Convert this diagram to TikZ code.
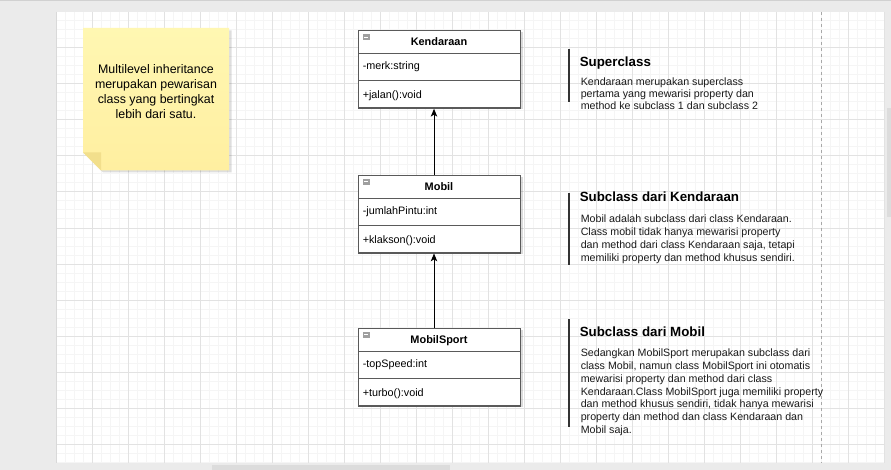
\documentclass[tikz,border=0pt]{standalone}
\usepackage{fontspec}
\setmainfont{Liberation Sans}
\usetikzlibrary{arrows.meta}
\definecolor{bgout}{HTML}{EBEBEB}
\definecolor{gridminor}{HTML}{F5F5F5}
\definecolor{gridmajor}{HTML}{E2E2E2}
\definecolor{boxline}{HTML}{5A5A5A}
\definecolor{notetop}{HTML}{FFF7B2}
\definecolor{notebot}{HTML}{FFEFA0}
\definecolor{notefold}{HTML}{F2DF8C}
\definecolor{pageline}{HTML}{A8A8A8}
\definecolor{thumb}{HTML}{DCDCDC}
\definecolor{bodytext}{HTML}{1A1A1A}
\newcommand{\umlclass}[5]{%
  \fill[black,opacity=0.14] (360,#2+2) rectangle (522.5,#2+79.5);
  \node[classbox, anchor=north west] (#1) at (358,#2) {};
  \draw[divider] (358,#2+23.5) -- (520,#2+23.5);
  \draw[divider] (358,#2+50.5) -- (520,#2+50.5);
  \fill[gray!75] (363,#2+4) rectangle (369.5,#2+10);
  \draw[white, line width=0.6pt] (364.3,#2+7) -- (368.2,#2+7);
  \node[hdrtext] (#1-title) at (439,#2+16) {#3};
  \node[membertext] (#1-attr) at (362.5,#2+40) {#4};
  \node[membertext] (#1-meth) at (362.5,#2+69) {#5};
}
\begin{document}
\begin{tikzpicture}[x=0.75pt,y=-0.75pt,
  classbox/.style={draw=boxline, fill=white, line width=1pt, minimum width=121.5pt, minimum height=58.1pt, inner sep=0pt},
  divider/.style={draw=boxline, line width=1pt},
  hdrtext/.style={anchor=base, inner sep=0pt, font=\fontsize{8.2}{10}\selectfont\bfseries},
  membertext/.style={anchor=base west, inner sep=0pt, font=\fontsize{8.1}{10}\selectfont},
  inh/.style={draw=black, line width=0.75pt, -{Stealth[length=5.8pt,width=4.8pt,inset=1.4pt]}},
  bar/.style={draw=black!80, line width=1pt},
  titletext/.style={anchor=base west, inner sep=0pt, font=\fontsize{10}{12}\selectfont\bfseries},
  bodyblock/.style={anchor=base west, inner sep=0pt, align=left, text=bodytext},
  notetext/.style={anchor=base, inner sep=0pt, align=center, font=\fontsize{9.3}{11.25}\selectfont}
]
\useasboundingbox (0,0) rectangle (891,470);
% outer window
\fill[bgout] (0,0) rectangle (891,470);
\draw[black!18, line width=0.75pt] (0,0.5) -- (891,0.5);
\fill[white] (56,12) rectangle (884,463);
% grid
\foreach \x in {65,74,...,884} \draw[gridminor, line width=0.75pt] (\x,12) -- (\x,463);
\foreach \y in {21,30,...,463} \draw[gridminor, line width=0.75pt] (56,\y) -- (884,\y);
\foreach \x in {92,128,...,884} \draw[gridmajor, line width=0.75pt] (\x,12) -- (\x,463);
\foreach \y in {48,84,...,463} \draw[gridmajor, line width=0.75pt] (56,\y) -- (884,\y);
\draw[black!15, line width=0.75pt] (56,12) -- (56,463);
% page break line
\draw[pageline, line width=0.75pt, dash pattern=on 2.25pt off 2.25pt] (821.5,12) -- (821.5,463);
% scrollbars
\fill[thumb] (212,464.5) rectangle (450,470);
\fill[thumb] (887,108) rectangle (891,217);

% sticky note
\fill[black,opacity=0.13] (85,30.5) -- (231.5,30.5) -- (231.5,172.5) -- (103,172.5) -- (85,154.5) -- cycle;
\shade[top color=notetop, bottom color=notebot] (83,28) -- (229,28) -- (229,170.5) -- (101,170.5) -- (83,152.5) -- cycle;
\fill[notefold] (83,152.5) -- (101,152.5) -- (101,170.5) -- cycle;
% multi-line nodes: base = last line's baseline
\node[notetext] (note) at (156,119) {Multilevel inheritance\\merupakan pewarisan\\class yang bertingkat\\lebih dari satu.};

% classes
\umlclass{kend}{30}{Kendaraan}{-merk:string}{+jalan():void}
\umlclass{mobil}{174.7}{Mobil}{-jumlahPintu:int}{+klakson():void}
\umlclass{sport}{327.8}{MobilSport}{-topSpeed:int}{+turbo():void}

% inheritance arrows
\coordinate (ax) at (434,0);
\draw[inh] (ax |- mobil.north) -- (ax |- kend.south);
\draw[inh] (ax |- sport.north) -- (ax |- mobil.south);

% descriptions
\draw[bar] (569,48.7) -- (569,102.3);
\node[titletext] (t1) at (579.5,66.7) {Superclass};
\node[bodyblock, font=\fontsize{8}{9}\selectfont] (b1) at (580.5,109.7)
  {Kendaraan merupakan superclass\\pertama yang mewarisi property dan\\method ke subclass 1 dan subclass 2};

\draw[bar] (569,193) -- (569,265);
\node[titletext] (t2) at (579.5,201.7) {Subclass dari Kendaraan};
\node[bodyblock, font=\fontsize{8}{9.75}\selectfont] (b2) at (580.5,261.7)
  {Mobil adalah subclass dari class Kendaraan.\\Class mobil tidak hanya mewarisi property\\dan method dari class Kendaraan saja, tetapi\\memiliki property dan method khusus sendiri.};

\draw[bar] (569,319) -- (569,427);
\node[titletext] (t3) at (579.5,336.7) {Subclass dari Mobil};
\node[bodyblock, font=\fontsize{8}{9.6}\selectfont] (b3) at (580.5,433.5)
  {Sedangkan MobilSport merupakan subclass dari\\class Mobil, namun class MobilSport ini otomatis\\mewarisi property dan method dari class\\Kendaraan.Class MobilSport juga memiliki property\\dan method khusus sendiri, tidak hanya mewarisi\\property dan method dan class Kendaraan dan\\Mobil saja.};
\end{tikzpicture}
\end{document}
